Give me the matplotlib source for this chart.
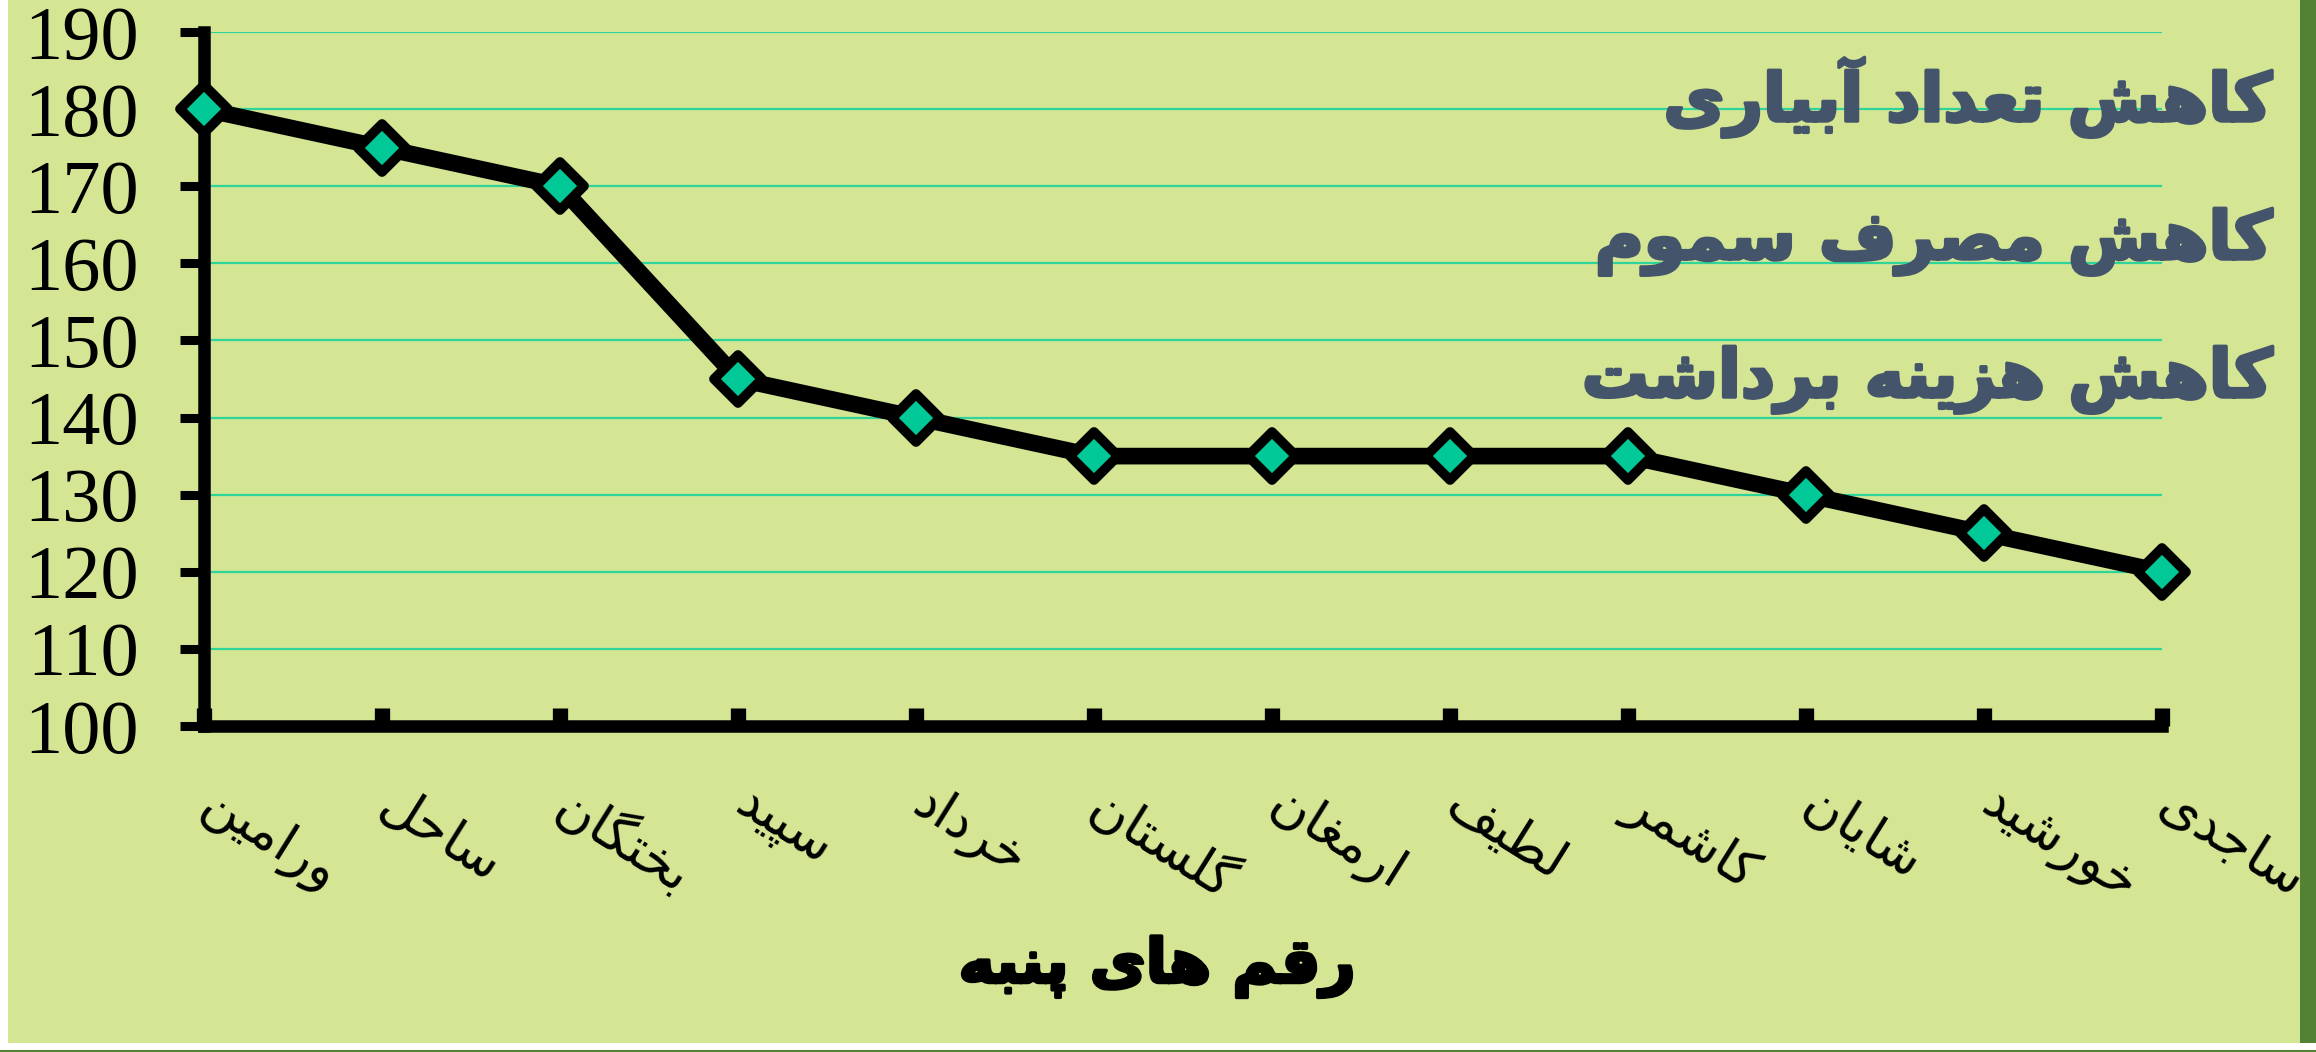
import matplotlib
matplotlib.use("Agg")
import matplotlib.pyplot as plt
import matplotlib.patheffects as pe
from matplotlib.markers import MarkerStyle
from matplotlib.patches import Rectangle
from matplotlib.transforms import ScaledTranslation

# ---------------------------------------------------------------------------
# Data
# ---------------------------------------------------------------------------
VARIETIES = ["ورامین", "ساحل", "بختگان", "سپید", "خرداد", "گلستان",
             "ارمغان", "لطیف", "کاشمر", "شایان", "خورشید", "ساجدی"]
VALUES = [180, 175, 170, 145, 140, 135, 135, 135, 135, 130, 125, 120]
Y_TICKS = [100, 110, 120, 130, 140, 150, 160, 170, 180, 190]
X_TITLE = "رقم های پنبه"
NOTES = ["کاهش تعداد آبیاری", "کاهش مصرف سموم", "کاهش هزینه برداشت"]

# ---------------------------------------------------------------------------
# Minimal Persian shaping (matplotlib has no bidi / joining support)
# forms: isolated, final, initial, medial
# ---------------------------------------------------------------------------
FORMS = {
    'ا': (0xFE8D, 0xFE8E, None, None),
    'آ': (0xFE81, 0xFE82, None, None),
    'ب': (0xFE8F, 0xFE90, 0xFE91, 0xFE92),
    'پ': (0xFB56, 0xFB57, 0xFB58, 0xFB59),
    'ت': (0xFE95, 0xFE96, 0xFE97, 0xFE98),
    'ج': (0xFE9D, 0xFE9E, 0xFE9F, 0xFEA0),
    'ح': (0xFEA1, 0xFEA2, 0xFEA3, 0xFEA4),
    'خ': (0xFEA5, 0xFEA6, 0xFEA7, 0xFEA8),
    'د': (0xFEA9, 0xFEAA, None, None),
    'ر': (0xFEAD, 0xFEAE, None, None),
    'ز': (0xFEAF, 0xFEB0, None, None),
    'س': (0xFEB1, 0xFEB2, 0xFEB3, 0xFEB4),
    'ش': (0xFEB5, 0xFEB6, 0xFEB7, 0xFEB8),
    'ص': (0xFEB9, 0xFEBA, 0xFEBB, 0xFEBC),
    'ط': (0xFEC1, 0xFEC2, 0xFEC3, 0xFEC4),
    'ع': (0xFEC9, 0xFECA, 0xFECB, 0xFECC),
    'غ': (0xFECD, 0xFECE, 0xFECF, 0xFED0),
    'ف': (0xFED1, 0xFED2, 0xFED3, 0xFED4),
    'ق': (0xFED5, 0xFED6, 0xFED7, 0xFED8),
    'ک': (0xFB8E, 0xFB8F, 0xFB90, 0xFB91),
    'گ': (0xFB92, 0xFB93, 0xFB94, 0xFB95),
    'ل': (0xFEDD, 0xFEDE, 0xFEDF, 0xFEE0),
    'م': (0xFEE1, 0xFEE2, 0xFEE3, 0xFEE4),
    'ن': (0xFEE5, 0xFEE6, 0xFEE7, 0xFEE8),
    'ه': (0xFEE9, 0xFEEA, 0xFEEB, 0xFEEC),
    'و': (0xFEED, 0xFEEE, None, None),
    'ی': (0xFBFC, 0xFBFD, 0xFBFE, 0xFBFF),
}


def fa(text):
    out = []
    for i, ch in enumerate(text):
        if ch not in FORMS:
            out.append(ch)
            continue
        prev = text[i - 1] if i > 0 else None
        nxt = text[i + 1] if i < len(text) - 1 else None
        join_prev = prev in FORMS and FORMS[prev][2] is not None
        join_next = nxt in FORMS and FORMS[ch][2] is not None
        iso, fin, ini, med = FORMS[ch]
        if join_prev and join_next:
            g = med
        elif join_prev:
            g = fin
        elif join_next:
            g = ini
        else:
            g = iso
        out.append(chr(g))
    return "".join(reversed(out))


# ---------------------------------------------------------------------------
# Style
# ---------------------------------------------------------------------------
BG = "#D4E594"
GRID = "#2FD49A"
MARKER = "#00C896"
NOTE_COLOR = "#44546A"
EDGE_GREEN = "#548235"

W, H = 2316, 1052
fig = plt.figure(figsize=(W / 100, H / 100), dpi=100)
fig.patch.set_facecolor(BG)

# page edges around the chart area
fig.patches.append(Rectangle((0, 0), 8 / W, 1, transform=fig.transFigure,
                             facecolor="white", edgecolor="none", zorder=-5))
fig.patches.append(Rectangle((2300 / W, 0), 16 / W, 1, transform=fig.transFigure,
                             facecolor=EDGE_GREEN, edgecolor="none", zorder=-5))
fig.patches.append(Rectangle((0, 0), 1, 9 / H, transform=fig.transFigure,
                             facecolor="white", edgecolor="none", zorder=-5))
fig.patches.append(Rectangle((0, 0), 1, 2 / H, transform=fig.transFigure,
                             facecolor=EDGE_GREEN, edgecolor="none", zorder=-5))

ax = fig.add_axes([204 / W, 1 - 726 / H, (2162 - 204) / W, (726 - 32) / H])
ax.set_facecolor("none")

x = list(range(len(VARIETIES)))
diamond = MarkerStyle("D", joinstyle="round")
ax.plot(x, VALUES, color="black", lw=12, marker=diamond, markersize=24,
        markerfacecolor=MARKER, markeredgecolor="black", markeredgewidth=7,
        solid_joinstyle="miter", clip_on=False, zorder=5)

ax.set_xlim(0, len(VARIETIES) - 1)
ax.set_ylim(100, 190)
ax.set_yticks(Y_TICKS)
ax.set_yticklabels([str(v) for v in Y_TICKS], fontfamily="Liberation Serif",
                   fontsize=55)
ax.set_xticks(x)
ax.set_xticklabels([])

# rotated category labels, hanging from each tick
lab_trans = ax.get_xaxis_transform() + ScaledTranslation(
    15 / 100, -52 / 100, fig.dpi_scale_trans)
for xi, name in zip(x, VARIETIES):
    ax.text(xi, 0, fa(name), transform=lab_trans, rotation=-32,
            rotation_mode="anchor", ha="left", va="top",
            fontfamily="DejaVu Sans", fontsize=38, color="black",
            clip_on=False)

ax.yaxis.grid(True, color=GRID, lw=1.6)
ax.set_axisbelow(True)

for side in ("top", "right"):
    ax.spines[side].set_visible(False)
for side in ("left", "bottom"):
    ax.spines[side].set_linewidth(9)
    ax.spines[side].set_color("black")
    ax.spines[side].set_capstyle("projecting")

ax.tick_params(axis="y", direction="out", length=17, width=6.5, pad=30,
               colors="black")
ax.tick_params(axis="x", direction="in", length=13, width=11,
               colors="black")

heavy_black = [pe.withStroke(linewidth=2.5, foreground="black")]
heavy_note = [pe.withStroke(linewidth=2.5, foreground=NOTE_COLOR)]

# axis title
fig.text(1157 / W, 1 - 967 / H, fa(X_TITLE), ha="center", va="center",
         fontfamily="DejaVu Sans", fontweight="bold", fontsize=44,
         color="black", path_effects=heavy_black)

# notes
for txt, yb in zip(NOTES, [121, 259, 397]):
    fig.text(2272 / W, 1 - yb / H, fa(txt), ha="right", va="baseline",
             fontfamily="DejaVu Sans", fontweight="bold", fontsize=48,
             color=NOTE_COLOR, zorder=3, path_effects=heavy_note)

fig.savefig("out.png", dpi=100, facecolor=fig.get_facecolor())
